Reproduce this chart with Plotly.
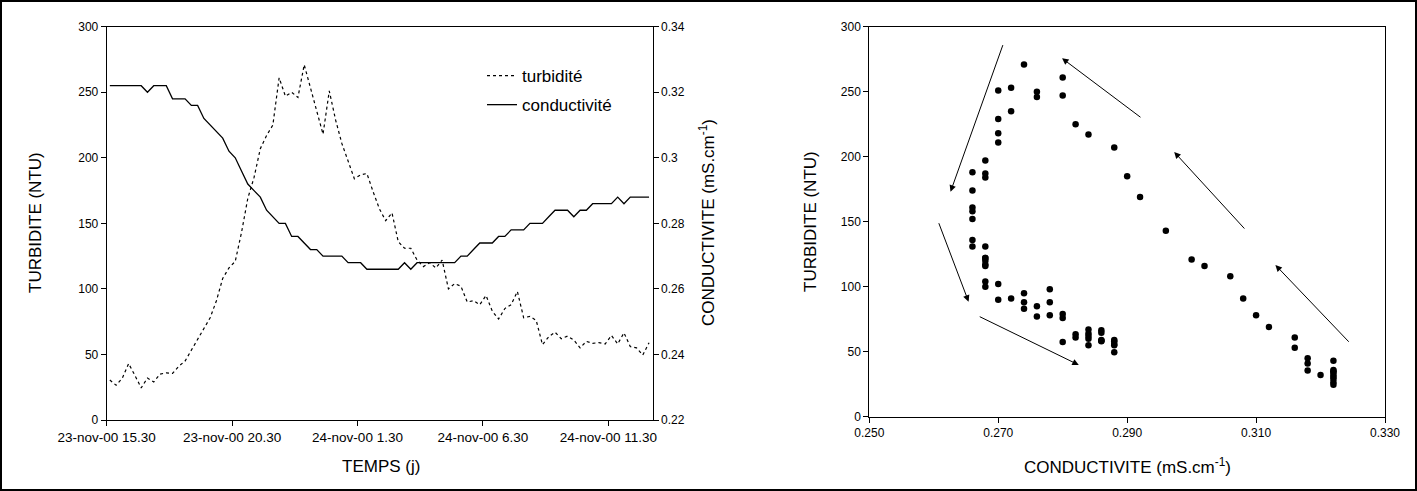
import numpy as np
import plotly.graph_objects as go

# ---------------- data ----------------
# 87 measurements every 15 min, first one on 23-nov-00 15.30
N_POINTS = 87
TICK_LABELS = ["23-nov-00 15.30", "23-nov-00 20.30", "24-nov-00 1.30",
               "24-nov-00 6.30", "24-nov-00 11.30"]
TICK_EVERY = 20  # categories between labels

TURBIDITY = [30.5, 26.5, 32, 43, 34, 24.5, 32, 29, 35, 36,
             35.5, 41, 45, 53, 61, 69, 78, 91, 108, 116,
             121, 143, 169, 185, 207, 217, 225, 261, 247, 250,
             246, 271, 253, 235, 218, 251, 229, 211, 197, 184,
             187, 188, 174, 161, 152, 158, 136, 131, 131, 122,
             117, 120, 116, 122, 100, 104, 102, 90, 91, 88,
             95, 83, 77, 85, 88, 98, 78, 79, 76, 57.5,
             63.5, 67, 62, 64, 61, 55, 60, 58.5, 59, 58,
             64.5, 58, 66.5, 56, 55, 49.5, 59]

CONDUCTIVITY = [0.322, 0.322, 0.322, 0.322, 0.322, 0.322, 0.320, 0.322, 0.322, 0.322,
                0.318, 0.318, 0.318, 0.316, 0.316, 0.312, 0.310, 0.308, 0.306, 0.302,
                0.300, 0.296, 0.292, 0.290, 0.288, 0.284, 0.282, 0.280, 0.280, 0.276,
                0.276, 0.274, 0.272, 0.272, 0.270, 0.270, 0.270, 0.270, 0.268, 0.268,
                0.268, 0.266, 0.266, 0.266, 0.266, 0.266, 0.266, 0.268, 0.266, 0.268,
                0.268, 0.268, 0.268, 0.268, 0.268, 0.268, 0.270, 0.270, 0.272, 0.274,
                0.274, 0.274, 0.276, 0.276, 0.278, 0.278, 0.278, 0.280, 0.280, 0.280,
                0.282, 0.284, 0.284, 0.284, 0.282, 0.284, 0.284, 0.286, 0.286, 0.286,
                0.286, 0.288, 0.286, 0.288, 0.288, 0.288, 0.288]

# hysteresis arrows on the scatter (tail x, tail y, head x, head y)
ARROWS = [
    (0.2708, 287, 0.2626, 173),
    (0.2607, 150, 0.2654, 88.5),
    (0.2669, 77.5, 0.2825, 39.8),
    (0.3246, 56.5, 0.3130, 116.7),
    (0.3084, 143.6, 0.2973, 203.6),
    (0.2923, 229.5, 0.2799, 275.7),
]

# ---------------- layout helpers ----------------
W, H = 1417, 491
FONT = "Liberation Sans, Arial, sans-serif"


def px_x(p):
    return p / W


def px_y(p):
    return 1 - p / H


idx = np.arange(N_POINTS)
tickvals = [i * TICK_EVERY - 0.5 for i in range(len(TICK_LABELS))]

fig = go.Figure()

fig.add_trace(go.Scatter(
    x=idx, y=TURBIDITY, mode="lines", name="turbidité",
    line=dict(color="black", width=1.2, dash="dot"),
    xaxis="x", yaxis="y", legendgroup="a"))
fig.add_trace(go.Scatter(
    x=idx, y=CONDUCTIVITY, mode="lines", name="conductivité",
    line=dict(color="black", width=1.3),
    xaxis="x", yaxis="y2", legendgroup="b"))
fig.add_trace(go.Scatter(
    x=CONDUCTIVITY, y=TURBIDITY, mode="markers", showlegend=False,
    marker=dict(color="black", size=6.5),
    xaxis="x2", yaxis="y3"))

axis_common = dict(showgrid=False, zeroline=False, showline=True,
                   linecolor="black", linewidth=1, ticks="outside",
                   ticklen=5, tickcolor="black", tickwidth=1, automargin=False,
                   tickfont=dict(family=FONT, size=12, color="black"))

left_dom_x = [px_x(106.7), px_x(652.7)]
left_dom_y = [px_y(420), px_y(26.7)]
right_dom_x = [px_x(869.3), px_x(1385)]
right_dom_y = [px_y(416.7), px_y(26.7)]

fig.update_layout(
    width=W, height=H, autosize=False,
    margin=dict(l=0, r=0, t=0, b=0, pad=0, autoexpand=False),
    paper_bgcolor="white", plot_bgcolor="white",
    font=dict(family=FONT, color="black"),
    xaxis=dict(domain=left_dom_x, range=[-0.5, N_POINTS - 0.5 + 0.08],
               tickvals=tickvals, ticktext=TICK_LABELS, mirror=True,
               anchor="y", **{**axis_common,
                              "tickfont": dict(family=FONT, size=13.5, color="black")}),
    yaxis=dict(domain=left_dom_y, range=[0, 300], dtick=50, anchor="x",
               **axis_common),
    yaxis2=dict(overlaying="y", side="right", range=[0.22, 0.34], dtick=0.02,
                tick0=0.22, anchor="x", **axis_common),
    xaxis2=dict(domain=right_dom_x, range=[0.25, 0.33], dtick=0.02, tick0=0.25,
                tickformat=".3f", anchor="y3", mirror=True, **axis_common),
    yaxis3=dict(domain=right_dom_y, range=[0, 300], dtick=50, anchor="x2",
                mirror=True, **axis_common),
    showlegend=True,
    legend=dict(x=px_x(482), y=px_y(58), xanchor="left", yanchor="top",
                bgcolor="rgba(0,0,0,0)", borderwidth=0,
                font=dict(family=FONT, size=17, color="black"),
                traceorder="grouped", tracegroupgap=4, itemwidth=30),
)

title_font = dict(family=FONT, size=17, color="black")
annots = [
    dict(text="TURBIDITE (NTU)", x=px_x(35), y=px_y(223), textangle=-90),
    dict(text="CONDUCTIVITE (mS.cm<sup>-1</sup>)", x=px_x(707), y=px_y(223), textangle=-90),
    dict(text="TEMPS (j)", x=px_x(381), y=px_y(466)),
    dict(text="TURBIDITE (NTU)", x=px_x(810), y=px_y(222), textangle=-90),
    dict(text="CONDUCTIVITE (mS.cm<sup>-1</sup>)", x=px_x(1127), y=px_y(466)),
]
ann_list = []
for a in annots:
    ann_list.append(dict(xref="paper", yref="paper", showarrow=False,
                         xanchor="center", yanchor="middle", font=title_font, **a))

for (tx, ty, hx, hy) in ARROWS:
    ann_list.append(dict(x=hx, y=hy, ax=tx, ay=ty, xref="x2", yref="y3",
                         axref="x2", ayref="y3", showarrow=True, text="",
                         arrowhead=2, arrowsize=1.3, arrowwidth=1,
                         arrowcolor="black"))

fig.update_layout(annotations=ann_list)

# outer frame of the figure
fig.add_shape(type="rect", xref="paper", yref="paper", x0=0, y0=0, x1=1, y1=1,
              line=dict(color="black", width=4), fillcolor="rgba(0,0,0,0)")

fig.write_html("out.html", config={"responsive": False, "displayModeBar": False},
               post_script="document.body.style.margin='0px';"
                           "document.body.style.padding='0px';")
